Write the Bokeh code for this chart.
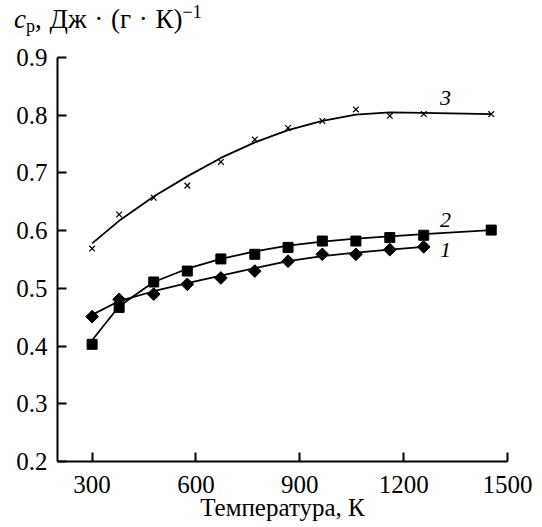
import numpy as np
from bokeh.plotting import figure
from bokeh.models import FixedTicker, Range1d, Div
from bokeh.layouts import column
from bokeh.core.properties import value
from bokeh.embed import file_html
from bokeh.resources import INLINE

# ---- data ----
temperature = [300, 378, 478, 575, 672, 770, 866, 965, 1062, 1160, 1258, 1453]
cp1 = [0.451, 0.481, 0.490, 0.507, 0.518, 0.530, 0.547, 0.559, 0.559, 0.567, 0.572]
cp2 = [0.403, 0.467, 0.511, 0.530, 0.551, 0.559, 0.571, 0.582, 0.582, 0.588, 0.592, 0.601]
cp3 = [0.569, 0.628, 0.657, 0.678, 0.719, 0.758, 0.778, 0.790, 0.810, 0.799, 0.802, 0.802]
# smoothed (fitted) curves as drawn in the picture
fit1 = [0.454, 0.478, 0.495, 0.509, 0.522, 0.535, 0.547, 0.556, 0.562, 0.567, 0.572]
fit2 = [0.410, 0.469, 0.511, 0.534, 0.551, 0.564, 0.574, 0.581, 0.586, 0.590, 0.594, 0.601]
fit3 = [0.578, 0.617, 0.659, 0.694, 0.726, 0.753, 0.774, 0.790, 0.801, 0.805, 0.804, 0.802]
series_labels = ["1", "2", "3"]
x_ticks = [300, 600, 900, 1200, 1500]
y_ticks = [0.2, 0.3, 0.4, 0.5, 0.6, 0.7, 0.8, 0.9]
x_title = "Температура, К"
y_title_sym, y_title_sub, y_title_unit, y_title_sup = "c", "p", ", Дж · (г · К)", "−1"

FONT = "Liberation Serif"

p = figure(frame_width=450, frame_height=404, output_backend="svg", toolbar_location=None,
           x_range=Range1d(200, 1500), y_range=Range1d(0.2, 0.9),
           min_border_left=57, min_border_right=35, min_border_top=21, min_border_bottom=0)
p.outline_line_color = None
p.grid.visible = False
p.background_fill_color = "white"
p.border_fill_color = "white"

for ax in (p.xaxis[0], p.yaxis[0]):
    ax.axis_line_width = 2
    ax.axis_line_color = "black"
    ax.major_tick_line_width = 2
    ax.major_tick_line_color = "black"
    ax.major_tick_in = 9
    ax.major_tick_out = 0
    ax.minor_tick_line_color = None
    ax.major_label_text_font = FONT
    ax.major_label_text_font_size = "25px"
    ax.major_label_text_color = "black"

p.xaxis[0].ticker = FixedTicker(ticks=x_ticks)
p.yaxis[0].ticker = FixedTicker(ticks=y_ticks)
p.xaxis[0].major_label_standoff = 14
p.yaxis[0].major_label_standoff = 10
p.xaxis[0].axis_label = x_title
p.xaxis[0].axis_label_text_font = FONT
p.xaxis[0].axis_label_text_font_size = "25px"
p.xaxis[0].axis_label_text_font_style = "normal"
p.xaxis[0].axis_label_text_color = "black"
p.xaxis[0].axis_label_standoff = -2

n1 = len(cp1)
# curves
p.line(temperature[:n1], fit1, line_color="black", line_width=1.8)
p.line(temperature, fit2, line_color="black", line_width=1.8)
p.line(temperature, fit3, line_color="black", line_width=1.8)
# markers
p.scatter(temperature[:n1], cp1, marker="square", angle=np.pi / 4, size=9,
          fill_color="black", line_color="black")
p.scatter(temperature, cp2, marker="square", size=10, fill_color="black", line_color="black")
p.scatter(temperature, cp3, marker="x", size=8, line_color="black", line_width=1.2)

# curve numbers
num_x = 1321
num_y = [0.566, 0.618, 0.829]
p.text(x=[num_x] * 3, y=num_y, text=series_labels, text_font=value(FONT),
       text_font_style="italic", text_font_size="22px", text_align="center",
       text_baseline="middle", text_color="black")

title_html = (
    '<div style="font-family:\'Liberation Serif\',serif;font-size:27px;line-height:22px;'
    'color:#000;white-space:nowrap;padding-top:8px;padding-left:14px;word-spacing:1px;">'
    f'<i>{y_title_sym}</i><span style="font-size:18px;position:relative;top:4px;">{y_title_sub}</span>'
    f'{y_title_unit}<span style="font-size:18px;position:relative;top:-10px;">{y_title_sup}</span></div>'
)
title = Div(text=title_html, width=542, height=36, margin=(0, 0, 0, 0))

layout = column(title, p, spacing=0)
open("out.html", "w").write(file_html(layout, INLINE))
